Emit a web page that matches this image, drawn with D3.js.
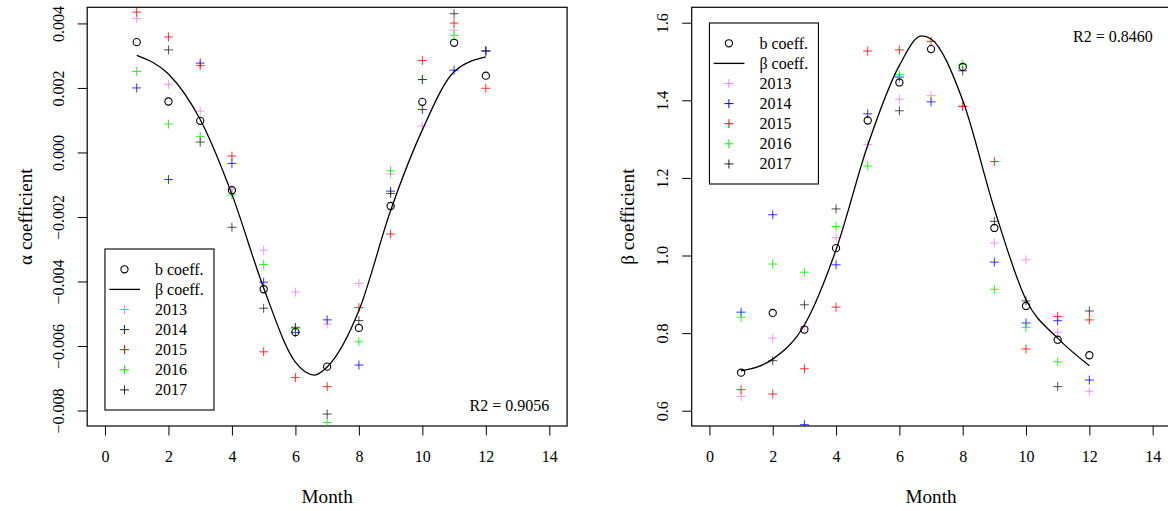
<!DOCTYPE html>
<html>
<head>
<meta charset="utf-8">
<script src="https://cdn.jsdelivr.net/npm/d3@7"></script>
<style>
  body { margin: 0; background: #fff; }
  svg, svg text { font-family: "Liberation Serif", "Times New Roman", Times, "DejaVu Serif", serif; }
</style>
</head>
<body>
<div id="chart"></div>
<script>

// ==============================
// Data
// ==============================
var months = [1, 2, 3, 4, 5, 6, 7, 8, 9, 10, 11, 12];
var years = ["2013", "2014", "2015", "2016", "2017"];
var yearColors = ["violet", "blue", "red", "#00ee00", "#222"];

// alpha panel (null = hidden / not visible)
var alphaB = [0.00342, 0.00158, 0.00098, -0.00117, -0.00424, -0.00557, -0.00664, -0.00544, -0.00166, 0.00157, 0.0034, 0.00238];
var alpha2013 = [0.00415, 0.00211, 0.00128, -0.00115, -0.00303, -0.00433, -0.00532, -0.00406, -0.00067, 0.00082, 0.00379, 0.00315];
var alpha2014 = [0.0020, -0.00084, 0.00277, -0.00034, -0.00402, -0.00558, -0.00519, -0.00659, -0.0012, 0.00133, 0.00255, 0.00314];
var alpha2015 = [0.00435, 0.00358, 0.00269, -0.00011, -0.00618, -0.00698, -0.00726, -0.00481, -0.00253, 0.00285, 0.00401, 0.00199];
var alpha2016 = [0.00251, 0.00088, 0.0005, -0.00132, -0.00347, -0.00545, -0.00837, -0.00587, -0.00057, 0.00226, 0.00363, null];
var alpha2017 = [null, 0.00318, 0.00032, -0.00232, -0.00483, -0.00542, -0.00811, -0.00521, -0.00127, 0.00226, 0.0043, 0.00315];
var alphaFitMonths = [1, 2, 3, 4, 5, 6, 6.6, 7, 8, 9, 10, 11, 12];
var alphaFit = [0.00301, 0.00243, 0.00102, -0.0013, -0.0042, -0.0065, -0.0069, -0.00665, -0.0049, -0.0018, 0.0007, 0.0025, 0.00296];

// beta panel
var betaB = [0.698, 0.852, 0.809, 1.019, 1.348, 1.446, 1.532, 1.486, 1.071, 0.870, 0.783, 0.743];
var beta2013 = [0.637, 0.787, 0.817, 1.046, 1.286, 1.403, 1.412, 1.386, 1.032, 0.989, 0.802, 0.650];
var beta2014 = [0.854, 1.105, 0.564, 0.976, 1.365, 1.46, 1.396, null, 0.983, 0.826, 0.832, 0.679];
var beta2015 = [0.654, 0.643, 0.708, 0.867, 1.527, 1.530, 1.552, 1.384, 1.242, 0.759, 0.843, 0.834];
var beta2016 = [0.841, 0.978, 0.957, 1.075, 1.231, 1.466, null, 1.493, 0.913, 0.815, 0.726, null];
var beta2017 = [null, 0.729, 0.873, 1.12, null, 1.373, null, 1.476, 1.088, 0.883, 0.662, 0.857];
var betaFitMonths = [1, 2, 3, 4, 5, 6, 6.7, 7, 8, 9, 10, 11, 12];
var betaFit = [0.703, 0.733, 0.821, 1.015, 1.284, 1.49, 1.566, 1.558, 1.40, 1.12, 0.886, 0.787, 0.716];

var xTicks = [0, 2, 4, 6, 8, 10, 12, 14];
var alphaTicks = [-0.008, -0.006, -0.004, -0.002, 0.000, 0.002, 0.004];
var betaTicks = [0.6, 0.8, 1.0, 1.2, 1.4, 1.6];

var serif = '"Liberation Serif", "Times New Roman", Times, "DejaVu Serif", serif';


// ==============================
// Setup SVG Area
// ==============================
var svgWidth = 1168;
var svgHeight = 511;

var svg = d3.select("#chart")
  .append("svg")
  .attr("width", svgWidth)
  .attr("height", svgHeight)
  .attr("font-family", serif);

function drawPanel(p) {

  var xScale = d3.scaleLinear().domain([-0.56, 14.56]).range([p.left, p.right]);
  var yScale = d3.scaleLinear().domain(p.yDomain).range([p.bottom, p.top]);

  var g = svg.append("g");

  // clip for the plotting region
  var clipId = "clip" + p.id;
  g.append("clipPath").attr("id", clipId)
    .append("rect")
    .attr("x", p.left).attr("y", p.top)
    .attr("width", p.right - p.left).attr("height", p.bottom - p.top);

  // Axes
  var xAxis = d3.axisBottom(xScale).tickValues(xTicks).tickSize(9.5).tickPadding(0);
  var xg = g.append("g")
    .attr("transform", `translate(0, ${p.bottom})`)
    .call(xAxis)
    .attr("font-family", serif)
    .attr("font-size", 16);
  xg.select(".domain").remove();
  xg.selectAll("line").attr("stroke", "#000");
  xg.selectAll("text")
    .attr("y", 36).attr("dy", 0)
    .attr("fill", "#000");

  var yAxis = d3.axisLeft(yScale).tickValues(p.yTicks).tickFormat(p.fmt).tickSize(9.5);
  var yg = g.append("g")
    .attr("transform", `translate(${p.left}, 0)`)
    .call(yAxis)
    .attr("font-family", serif)
    .attr("font-size", 16);
  yg.select(".domain").remove();
  yg.selectAll("line").attr("stroke", "#000");
  yg.selectAll("text")
    .attr("transform", "rotate(-90)")
    .attr("x", 0).attr("y", -23.5).attr("dy", 0)
    .attr("text-anchor", "middle")
    .attr("fill", "#000");

  // Box
  g.append("rect")
    .attr("x", p.left).attr("y", p.top)
    .attr("width", p.right - p.left).attr("height", p.bottom - p.top)
    .attr("fill", "none").attr("stroke", "#000").attr("stroke-width", 1.2);

  // Axis titles
  g.append("text")
    .attr("x", (p.left + p.right) / 2).attr("y", 502.7)
    .attr("text-anchor", "middle")
    .attr("font-size", 19.2)
    .text("Month");

  g.append("text")
    .attr("transform", `translate(${p.yTitleX}, ${(p.top + p.bottom) / 2}) rotate(-90)`)
    .attr("text-anchor", "middle")
    .attr("font-size", 19.2)
    .text(p.yTitle);

  var plot = g.append("g").attr("clip-path", `url(#${clipId})`);

  // Year points (plus signs)
  p.series.forEach(function(vals, i) {
    var pts = months.map((m, j) => ({ x: m, y: vals[j] })).filter(d => d.y !== null);
    plot.selectAll(null)
      .data(pts)
      .enter()
      .append("path")
      .attr("d", d => {
        var cx = xScale(d.x), cy = yScale(d.y);
        return `M${cx - 4.5},${cy}H${cx + 4.5}M${cx},${cy - 4.5}V${cy + 4.5}`;
      })
      .attr("stroke", yearColors[i])
      .attr("stroke-opacity", 0.8)
      .attr("stroke-width", 1);
  });

  // b coefficient circles
  plot.selectAll(null)
    .data(months.map((m, j) => ({ x: m, y: p.bCoef[j] })))
    .enter()
    .append("circle")
    .attr("cx", d => xScale(d.x))
    .attr("cy", d => yScale(d.y))
    .attr("r", 3.6)
    .attr("fill", "none")
    .attr("stroke", "#000")
    .attr("stroke-width", 1.1);

  // Fitted curve
  var line = d3.line()
    .x(d => xScale(d.x))
    .y(d => yScale(d.y))
    .curve(d3.curveMonotoneX);

  plot.append("path")
    .datum(p.fitMonths.map((m, j) => ({ x: m, y: p.fit[j] })))
    .attr("d", line)
    .attr("fill", "none")
    .attr("stroke", "#000")
    .attr("stroke-width", 1.3);

  // R2 label
  g.append("text")
    .attr("x", xScale(14)).attr("y", yScale(p.r2Y))
    .attr("text-anchor", "end")
    .attr("font-size", 16)
    .text(p.r2);

  // Legend
  var lx = xScale(0), ly = p.legendTop;
  var lg = g.append("g").attr("transform", `translate(${lx}, ${ly})`);
  lg.append("rect")
    .attr("width", 109).attr("height", 161)
    .attr("fill", "#fff").attr("stroke", "#000").attr("stroke-width", 1.1);

  var rowY = i => 20.3 + i * 20.1;
  var labels = ["b coeff.", "\u03b2 coeff."].concat(years);
  labels.forEach(function(lab, i) {
    lg.append("text")
      .attr("x", 50).attr("y", rowY(i) + 5.5)
      .attr("font-size", 16)
      .text(lab);
  });
  lg.append("circle")
    .attr("cx", 19.5).attr("cy", rowY(0)).attr("r", 3.6)
    .attr("fill", "none").attr("stroke", "#000").attr("stroke-width", 1.1);
  lg.append("line")
    .attr("x1", 4.3).attr("x2", 35).attr("y1", rowY(1)).attr("y2", rowY(1))
    .attr("stroke", "#000").attr("stroke-width", 1.3);
  years.forEach(function(y, i) {
    var cy = rowY(i + 2);
    lg.append("path")
      .attr("d", `M${19.5 - 4.5},${cy}H${19.5 + 4.5}M19.5,${cy - 4.5}V${cy + 4.5}`)
      .attr("stroke", yearColors[i])
      .attr("stroke-width", 1);
  });
}

// ==============================
// Build both panels
// ==============================
drawPanel({
  id: "a",
  left: 87.2, right: 567.1, top: 7.3, bottom: 426,
  yDomain: [-0.00848, 0.0045],
  yTicks: alphaTicks,
  fmt: d3.format(".3f"),
  yTitle: "\u03b1 coefficient",
  yTitleX: 31.5,
  series: [alpha2013, alpha2014, alpha2015, alpha2016, alpha2017],
  bCoef: alphaB,
  fitMonths: alphaFitMonths,
  fit: alphaFit,
  r2: "R2 = 0.9056",
  r2Y: -0.008,
  legendTop: 249
});

drawPanel({
  id: "b",
  left: 691.7, right: 1170.4, top: 7.3, bottom: 426,
  yDomain: [0.5606, 1.6397],
  yTicks: betaTicks,
  fmt: d3.format(".1f"),
  yTitle: "\u03b2 coefficient",
  yTitleX: 634,
  series: [beta2013, beta2014, beta2015, beta2016, beta2017],
  bCoef: betaB,
  fitMonths: betaFitMonths,
  fit: betaFit,
  r2: "R2 = 0.8460",
  r2Y: 1.55,
  legendTop: 23
});

</script>
</body>
</html>
